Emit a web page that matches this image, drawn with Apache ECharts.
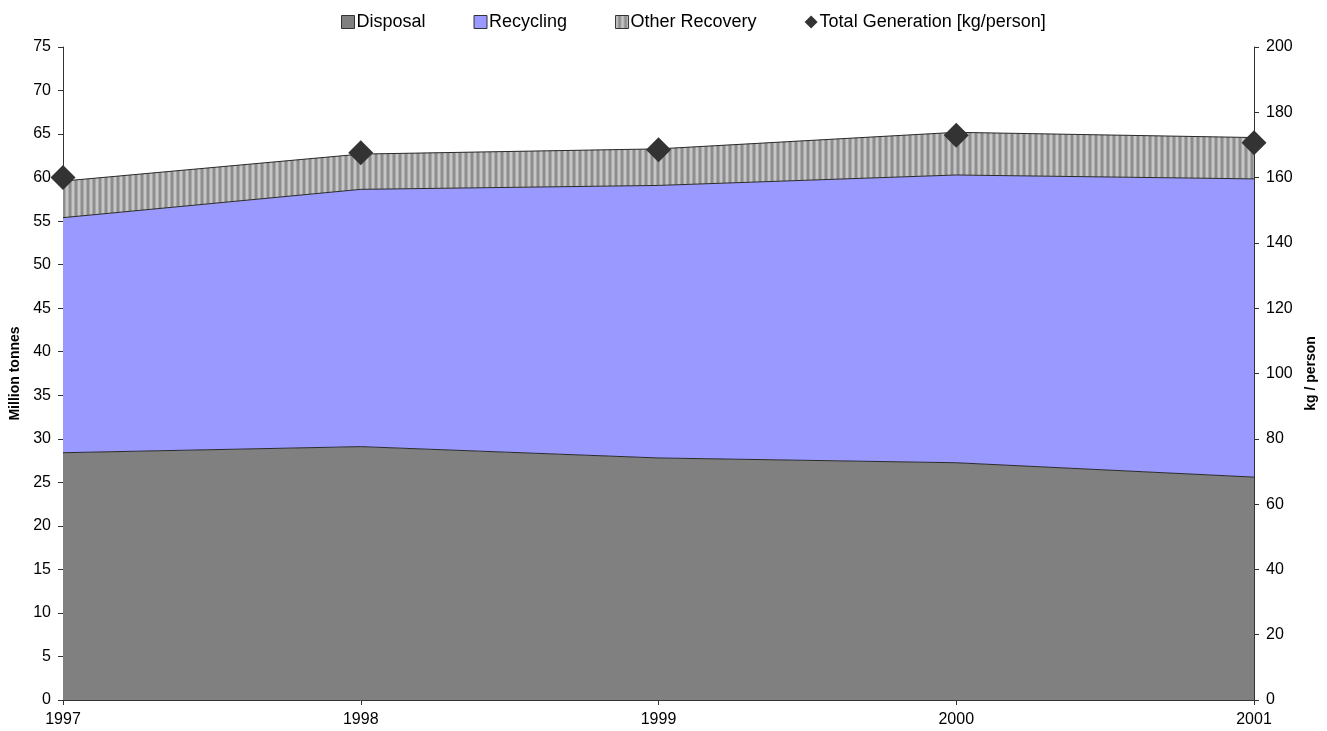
<!DOCTYPE html>
<html>
<head>
<meta charset="utf-8">
<title>Waste generation and management</title>
<script src="https://cdn.jsdelivr.net/npm/echarts@6/dist/echarts.min.js"></script>
<style>
  html, body { margin: 0; padding: 0; background: #ffffff; }
  #chart { width: 1327px; height: 731px; }
</style>
</head>
<body>
<div id="chart"></div>
<script>
// Years on the horizontal axis
const years = ['1997', '1998', '1999', '2000', '2001'];

// Million tonnes, stacked
const disposal = [28.4, 29.1, 27.8, 27.25, 25.6];
const recycling = [27.0, 29.55, 31.3, 33.05, 34.25];
const otherRecovery = [4.2, 4.05, 4.2, 4.9, 4.75];

// kg per person, right axis
const totalGeneration = [160, 167.6, 168.5, 173.0, 170.7];

// Vertical stripe fill for "Other Recovery"
function stripePattern() {
  const c = document.createElement('canvas');
  c.width = 6; c.height = 6;
  const g = c.getContext('2d');
  const cols = ['#c6c6c6', '#c6c6c6', '#a9a9a9', '#8e8e8e', '#8e8e8e', '#a9a9a9'];
  cols.forEach((col, i) => { g.fillStyle = col; g.fillRect(i, 0, 1, 6); });
  return { image: c, repeat: 'repeat' };
}
const stripes = stripePattern();

const font = 'Liberation Sans, Arial, sans-serif';
const axisColor = '#333333';

const chart = echarts.init(document.getElementById('chart'), null, { renderer: 'canvas' });

const areaSeries = (name, data, fill) => ({
  name: name,
  type: 'line',
  stack: 'total',
  data: data,
  symbol: 'none',
  smooth: false,
  lineStyle: { color: '#2a2a2a', width: 1 },
  itemStyle: { color: fill },
  areaStyle: { color: fill, opacity: 1 },
  emphasis: { disabled: true },
  z: 2
});

chart.setOption({
  animation: false,
  backgroundColor: '#ffffff',
  textStyle: { fontFamily: font },
  legend: {
    top: 8,
    left: 336,
    itemWidth: 13,
    itemHeight: 13,
    itemGap: 48,
    icon: 'rect',
    textStyle: { fontSize: 18, color: '#000', fontFamily: font, padding: [0, 0, 0, -3] },
    data: [
      { name: 'Disposal', itemStyle: { color: '#808080', borderColor: '#333', borderWidth: 1 } },
      { name: 'Recycling', itemStyle: { color: '#9999ff', borderColor: '#333', borderWidth: 1 } },
      { name: 'Other Recovery', itemStyle: { color: stripes, borderColor: '#333', borderWidth: 1 } },
      { name: 'Total Generation [kg/person]', icon: 'diamond', itemStyle: { color: '#333333', borderWidth: 0 } }
    ]
  },
  grid: { left: 63, right: 73, top: 47, bottom: 31, containLabel: false, outerBoundsMode: 'none' },
  xAxis: {
    type: 'category',
    data: years,
    boundaryGap: false,
    axisLine: { lineStyle: { color: axisColor, width: 1 } },
    axisTick: { length: 5, lineStyle: { color: axisColor } },
    axisLabel: { fontSize: 16, color: '#000', margin: 12, fontFamily: font },
    splitLine: { show: false }
  },
  yAxis: [
    {
      type: 'value',
      min: 0, max: 75, interval: 5,
      name: 'Million tonnes',
      nameLocation: 'middle',
      nameRotate: 90,
      nameGap: 40,
      nameTextStyle: { fontSize: 14, fontWeight: 'bold', color: '#000', fontFamily: font },
      axisLine: { show: true, lineStyle: { color: axisColor, width: 1 } },
      axisTick: { show: true, length: 5, lineStyle: { color: axisColor } },
      axisLabel: { fontSize: 16, color: '#000', margin: 12, fontFamily: font },
      splitLine: { show: false }
    },
    {
      type: 'value',
      position: 'right',
      min: 0, max: 200, interval: 20,
      name: 'kg / person',
      nameLocation: 'middle',
      nameRotate: 90,
      nameGap: 50,
      nameTextStyle: { fontSize: 14, fontWeight: 'bold', color: '#000', fontFamily: font },
      axisLine: { show: true, lineStyle: { color: axisColor, width: 1 } },
      axisTick: { show: true, length: 5, lineStyle: { color: axisColor } },
      axisLabel: { fontSize: 16, color: '#000', margin: 12, fontFamily: font },
      splitLine: { show: false }
    }
  ],
  series: [
    areaSeries('Disposal', disposal, '#808080'),
    areaSeries('Recycling', recycling, '#9999ff'),
    areaSeries('Other Recovery', otherRecovery, stripes),
    {
      name: 'Total Generation [kg/person]',
      type: 'line',
      yAxisIndex: 1,
      data: totalGeneration,
      symbol: 'diamond',
      symbolSize: 25,
      showSymbol: true,
      lineStyle: { width: 0, opacity: 0 },
      itemStyle: { color: '#333333' },
      emphasis: { disabled: true },
      clip: false,
      z: 5
    }
  ]
});
</script>
</body>
</html>
